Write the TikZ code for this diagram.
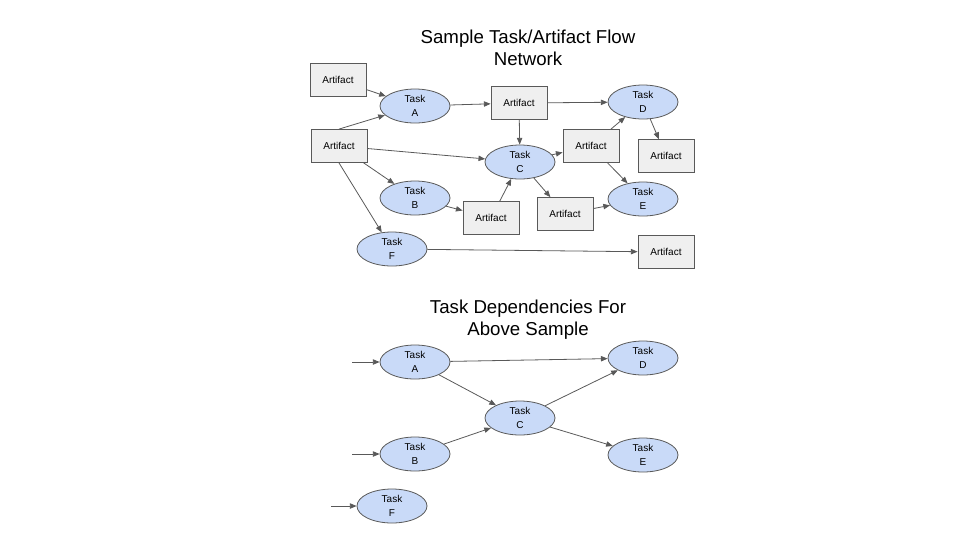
\documentclass[tikz,border=0pt]{standalone}
\usepackage{fontspec}
\setmainfont{Liberation Sans}
\usetikzlibrary{shapes.geometric,arrows.meta}
\definecolor{edgegray}{HTML}{595959}
\definecolor{boxfill}{HTML}{EFEFEF}
\definecolor{taskfill}{HTML}{C9DAF8}
\begin{document}
\begin{tikzpicture}[x=0.75pt,y=-0.75pt,
  artbox/.style={draw=edgegray,fill=boxfill,line width=0.6pt,minimum width=42pt,minimum height=24.75pt,inner sep=0pt,font=\fontsize{7.5}{9}\selectfont},
  taskell/.style={ellipse,draw=edgegray,fill=taskfill,line width=0.6pt,minimum width=52.5pt,minimum height=25.5pt,inner sep=0pt,align=center,font=\fontsize{7.5}{10}\selectfont},
  titletext/.style={align=center,font=\fontsize{14}{16.5}\selectfont},
  conn/.style={draw=edgegray,line width=0.6pt,-{Triangle[length=5pt,width=4pt]}}]
\useasboundingbox (0,0) rectangle (960,540);
% titles
\node[titletext] (t1) at (528,48) {Sample Task/Artifact Flow\\Network};
\node[titletext] (t2) at (528,320) {Task Dependencies For\\Above Sample};
% top network
\node[artbox] (a1) at (338,80) {Artifact};
\node[artbox] (a2) at (339,146) {Artifact};
\node[artbox] (a3) at (519,103) {Artifact};
\node[artbox] (a4) at (591,146) {Artifact};
\node[artbox] (a5) at (666,156) {Artifact};
\node[artbox] (a6) at (491,218) {Artifact};
\node[artbox] (a7) at (565,214) {Artifact};
\node[artbox] (a8) at (666,252) {Artifact};
\node[taskell] (tA) at (415,106) {Task\\A};
\node[taskell] (tD) at (643,102) {Task\\D};
\node[taskell] (tC) at (520,162) {Task\\C};
\node[taskell] (tB) at (415,198) {Task\\B};
\node[taskell] (tE) at (643,199) {Task\\E};
\node[taskell] (tF) at (392,249) {Task\\F};
\draw[conn] (a1) -- (tA);
\draw[conn] (a2.north) -- (tA);
\draw[conn] (a2) -- (tC);
\draw[conn] (a2) -- (tB);
\draw[conn] (a2.south) -- (tF);
\draw[conn] (tA) -- (a3);
\draw[conn] (a3) -- (tD);
\draw[conn] (a3) -- (tC);
\draw[conn] (tC) -- (a4);
\draw[conn] (a4) -- (tD);
\draw[conn] (a4) -- (tE);
\draw[conn] (tD) -- (a5);
\draw[conn] (tC) -- (a7);
\draw[conn] (a7) -- (tE);
\draw[conn] (tB) -- (a6);
\draw[conn] (a6) -- (tC);
\draw[conn] (tF) -- (a8);
% bottom dependencies
\node[taskell] (bA) at (415,362) {Task\\A};
\node[taskell] (bD) at (643,358) {Task\\D};
\node[taskell] (bC) at (520,418) {Task\\C};
\node[taskell] (bB) at (415,454) {Task\\B};
\node[taskell] (bE) at (643,455) {Task\\E};
\node[taskell] (bF) at (392,506) {Task\\F};
\coordinate (inA) at (352,362);
\coordinate (inB) at (352,454);
\coordinate (inF) at (331,506);
\draw[conn] (inA) -- (bA);
\draw[conn] (inB) -- (bB);
\draw[conn] (inF) -- (bF);
\draw[conn] (bA) -- (bD);
\draw[conn] (bA) -- (bC);
\draw[conn] (bB) -- (bC);
\draw[conn] (bC) -- (bD);
\draw[conn] (bC) -- (bE);
\end{tikzpicture}
\end{document}
